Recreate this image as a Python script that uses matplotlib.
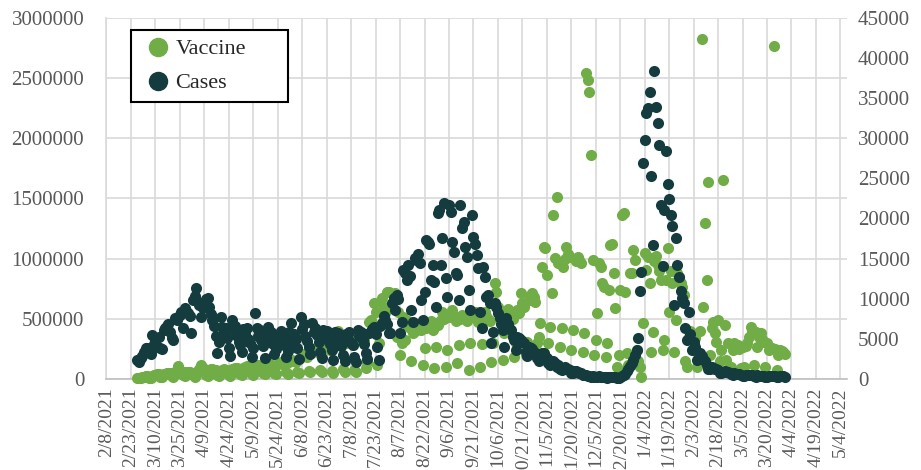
import numpy as np
import pandas as pd
import matplotlib
matplotlib.use("Agg")
import matplotlib.pyplot as plt
import matplotlib.dates as mdates
from matplotlib.ticker import MultipleLocator, FuncFormatter
from matplotlib.lines import Line2D

plt.rcParams["font.family"] = ["Liberation Serif", "DejaVu Serif"]

first_day = "2021-02-27"

# daily doses, Sat 2/27 + Sun 2/28, then one row per week (Mon..Sun)
vaccine = [
    8000, 5000,
    10000, 14000, 18000, 22000, 25000, 12000, 9000,
    28000, 32000, 35000, 38000, 40000, 20000, 15000,
    42000, 45000, 48000, 50000, 47000, 25000, 18000,
    60000, 75000, 110000, 70000, 65000, 30000, 24000,
    55000, 58000, 60000, 40000, 30000, 20000, 35000,
    70000, 85000, 120000, 90000, 80000, 35000, 28000,
    75000, 80000, 85000, 78000, 72000, 33000, 26000,
    70000, 76000, 80000, 74000, 70000, 30000, 25000,
    80000, 85000, 90000, 88000, 82000, 38000, 30000,
    95000, 100000, 105000, 98000, 92000, 45000, 35000,
    105000, 110000, 115000, 108000, 100000, 50000, 38000,
    115000, 120000, 125000, 118000, 110000, 52000, 40000,
    125000, 130000, 140000, 132000, 120000, 58000, 45000,
    140000, 150000, 160000, 150000, 140000, 62000, 50000,
    180000, 200000, 210000, 195000, 180000, 70000, 55000,
    220000, 240000, 250000, 235000, 215000, 75000, 58000,
    250000, 270000, 280000, 260000, 240000, 70000, 47000,
    290000, 320000, 400000, 300000, 270000, 80000, 60000,
    300000, 320000, 330000, 310000, 280000, 75000, 60000,
    330000, 350000, 360000, 345000, 320000, 90000, 144000,
    475000, 490000, 462000, 628000, 558000, 116000, 300000,
    641000, 670000, 600000, 545000, 724000, 724000, 379000,
    600000, 650000, 711000, 351000, 560000, 200000, 300000,
    517000, 324000, 450000, 480000, 420000, 150000, 379000,
    400000, 420000, 440000, 430000, 407000, 116000, 260000,
    420000, 440000, 460000, 480000, 407000, 89000, 268000,
    450000, 470000, 490000, 558000, 500000, 100000, 241000,
    517000, 540000, 573000, 520000, 480000, 130000, 280000,
    500000, 530000, 510000, 517000, 480000, 75000, 296000,
    520000, 540000, 560000, 500000, 470000, 102000, 290000,
    540000, 560000, 520000, 500000, 480000, 144000, 300000,
    794000, 720000, 600000, 560000, 520000, 158000, 379000,
    545000, 580000, 560000, 520000, 500000, 180000, 296000,
    573000, 545000, 711000, 628000, 600000, 200000, 310000,
    656000, 700000, 711000, 680000, 640000, 296000, 351000,
    462000, 932000, 1098000, 1085000, 863000, 296000, 434000,
    711000, 1361000, 1002000, 1513000, 960000, 268000, 421000,
    932000, 1000000, 1098000, 1040000, 1015000, 241000, 407000,
    1000000, 980000, 1015000, 988000, 960000, 227000, 379000,
    2540000, 2480000, 2380000, 1860000, 988000, 199000, 324000,
    545000, 960000, 932000, 794000, 766000, 185000, 296000,
    739000, 1112000, 1120000, 877000, 587000, 102000, 199000,
    739000, 1361000, 1380000, 724000, 213000, 116000, 877000,
    877000, 1071000, 988000, 241000, 150000, 102000, 17000,
    462000, 1043000, 905000, 1015000, 794000, 227000, 393000,
    980000, 1020000, 950000, 900000, 820000, 240000, 324000,
    822000, 1085000, 558000, 900000, 800000, 227000, 490000,
    880000, 850000, 800000, 760000, 700000, 150000, 102000,
    351000, 400000, 380000, 360000, 340000, 100000, 200000,
    400000, 2819000, 600000, 1297000, 822000, 1637000, 200000,
    420000, 475000, 379000, 310000, 490000, 150000, 241000,
    1652000, 450000, 158000, 300000, 75000, 102000, 241000,
    300000, 268000, 280000, 250000, 89000, 268000, 102000,
    270000, 300000, 350000, 434000, 400000, 120000, 393000,
    268000, 350000, 379000, 330000, 310000, 100000, 296000,
    241000, 250000, 260000, 2766000, 250000, 75000, 200000,
    241000, 230000, 220000, 210000,
]

# daily new cases, same layout
cases = [
    2370, 2100,
    2600, 2900, 3300, 3820, 3900, 3300, 3100,
    5480, 4300, 4800, 4020, 5200, 3900, 3700,
    6100, 6300, 6600, 6900, 5900, 5070, 4800,
    7560, 7300, 7700, 8000, 8300, 6400, 8800,
    8500, 8200, 7900, 5690, 9800, 10300, 11290,
    9600, 9200, 7760, 8900, 9400, 9900, 10050,
    9000, 8100, 7400, 6600, 5400, 3200, 4600,
    7760, 6500, 5900, 6300, 5100, 3900, 2900,
    7350, 6100, 6600, 5400, 4600, 4200, 3300,
    6200, 5600, 6400, 5000, 4500, 2800, 3900,
    8180, 6300, 5300, 6100, 4800, 4100, 2600,
    5700, 6500, 4900, 5800, 4300, 3100, 3700,
    5500, 4700, 6000, 5100, 4200, 2700, 3500,
    5800, 6930, 4600, 5600, 5000, 3800, 2500,
    7760, 6200, 6900, 5300, 4700, 4000, 3100,
    6930, 5900, 6400, 5500, 4600, 3300, 2600,
    6100, 5400, 6000, 4900, 4300, 3600, 2400,
    5900, 5100, 5700, 4700, 4100, 3000, 2300,
    5600, 5000, 5800, 4500, 4200, 2800, 2100,
    6100, 5300, 5900, 4800, 4300, 3200, 2500,
    5690, 5800, 6200, 6500, 5600, 4020, 2370,
    6600, 7000, 7800, 7350, 6900, 5700, 5690,
    9420, 10050, 8590, 10500, 9900, 5690, 7100,
    13570, 13200, 12330, 14200, 12800, 8590, 7130,
    15030, 14800, 15600, 14400, 9840, 7350, 10800,
    17300, 17100, 16800, 12330, 14190, 12110, 9000,
    20630, 21040, 14190, 17500, 21870, 12540, 10250,
    21660, 20800, 17090, 15800, 13160, 12950, 9840,
    21660, 18760, 19500, 16400, 15230, 11080, 8590,
    20420, 17720, 16800, 15440, 13780, 8380, 6310,
    13980, 12740, 10250, 10460, 9420, 4440, 5890,
    9420, 9000, 8200, 7600, 6900, 6100, 4020,
    7560, 6900, 6300, 6100, 5200, 4860, 3610,
    5270, 5100, 4800, 4600, 4440, 3300, 2900,
    4020, 3900, 3700, 3400, 3200, 2600, 2300,
    2900, 3200, 3200, 2800, 2600, 2000, 1700,
    2100, 2200, 2000, 1530, 1700, 1300, 1100,
    1400, 1500, 1300, 1200, 1100, 800, 700,
    950, 1000, 900, 800, 750, 500, 450,
    450, 420, 380, 300, 330, 250, 220,
    300, 320, 290, 280, 270, 200, 180,
    260, 270, 250, 240, 230, 170, 160,
    290, 380, 480, 650, 1000, 1300, 1600,
    1950, 2400, 3000, 3610, 5070, 11000, 13360,
    26930, 29760, 33080, 33700, 35770, 25270, 16680,
    38350, 33830, 31910, 29130, 21660, 14110, 21000,
    28390, 24240, 22410, 20420, 19050, 9210, 17520,
    14190, 12740, 11000, 10050, 9500, 6310, 4860,
    8380, 5600, 3610, 4600, 4020, 2370, 2780,
    3200, 2900, 2500, 2200, 1740, 1300, 1200,
    1500, 1400, 1300, 1200, 1100, 800, 750,
    910, 950, 900, 850, 800, 600, 550,
    700, 680, 650, 600, 500, 420, 400,
    550, 520, 500, 480, 450, 330, 300,
    450, 430, 420, 400, 380, 300, 290,
    380, 400, 370, 350, 340, 250, 230,
    330, 340, 320, 310,
]

axis_start = "2021-02-08"
axis_end = "2022-05-04"
axis_stop = "2022-05-08"

GREEN = "#70AD47"
DARK = "#143C3E"
GRID = "#D9D9D9"
LABEL = "#595959"

days = mdates.date2num(pd.date_range(first_day, periods=len(cases)))
ticks = pd.date_range(axis_start, axis_end, freq="15D")

fig = plt.figure(figsize=(9.21, 4.70), dpi=100)
ax = fig.add_axes([0.1156, 0.1936, 0.8040, 0.7691])
ax2 = ax.twinx()

ax.scatter(days, vaccine, s=64, color=GREEN, linewidths=0, clip_on=False, zorder=3)
ax2.scatter(days, cases, s=64, color=DARK, linewidths=0, clip_on=False, zorder=3)

ax.set_xlim(mdates.date2num(pd.Timestamp(axis_start)), mdates.date2num(pd.Timestamp(axis_stop)))
ax.set_xticks(mdates.date2num(ticks))
ax.set_xticklabels([f"{t.month}/{t.day}/{t.year}" for t in ticks], rotation=90)

ax.set_ylim(0, 3000000)
ax.yaxis.set_major_locator(MultipleLocator(500000))
ax.yaxis.set_major_formatter(FuncFormatter(lambda v, p: f"{int(v)}"))
ax2.set_ylim(0, 45000)
ax2.yaxis.set_major_locator(MultipleLocator(5000))
ax2.yaxis.set_major_formatter(FuncFormatter(lambda v, p: f"{int(v)}"))

ax.grid(True, color=GRID, linewidth=1.2)
ax.set_axisbelow(True)
for side in ["top", "right"]:
    ax.spines[side].set_visible(False)
ax.spines["left"].set_color(GRID)
ax.spines["bottom"].set_color("#BFBFBF")
ax.spines["left"].set_linewidth(1.2)
ax.spines["bottom"].set_linewidth(1.2)
for side in ax2.spines:
    ax2.spines[side].set_visible(False)

ax.tick_params(axis="y", length=0, pad=16, labelsize=15, labelcolor=LABEL)
ax.tick_params(axis="x", length=0, pad=6, labelsize=14, labelcolor=LABEL)
ax2.tick_params(axis="y", length=0, pad=8, labelsize=15, labelcolor=LABEL)

# legend box spans a fixed width, like the spreadsheet one
handles = [
    Line2D([], [], marker="o", linestyle="", markersize=13, color=GREEN, label="Vaccine"),
    Line2D([], [], marker="o", linestyle="", markersize=13, color=DARK, label="Cases"),
]
leg = ax2.legend(handles=handles, loc="upper left",
                 bbox_to_anchor=(131 / 921, (470 - 100) / 470, 157 / 921, 70 / 470),
                 bbox_transform=fig.transFigure, mode="expand", borderaxespad=0,
                 fancybox=False, framealpha=1, edgecolor="black", fontsize=16,
                 handletextpad=0.0, borderpad=0.4, labelspacing=0.6, handlelength=1.6)
leg.get_frame().set_linewidth(1.5)
for t in leg.get_texts():
    t.set_color("#262626")

fig.savefig("out.png", dpi=100)
